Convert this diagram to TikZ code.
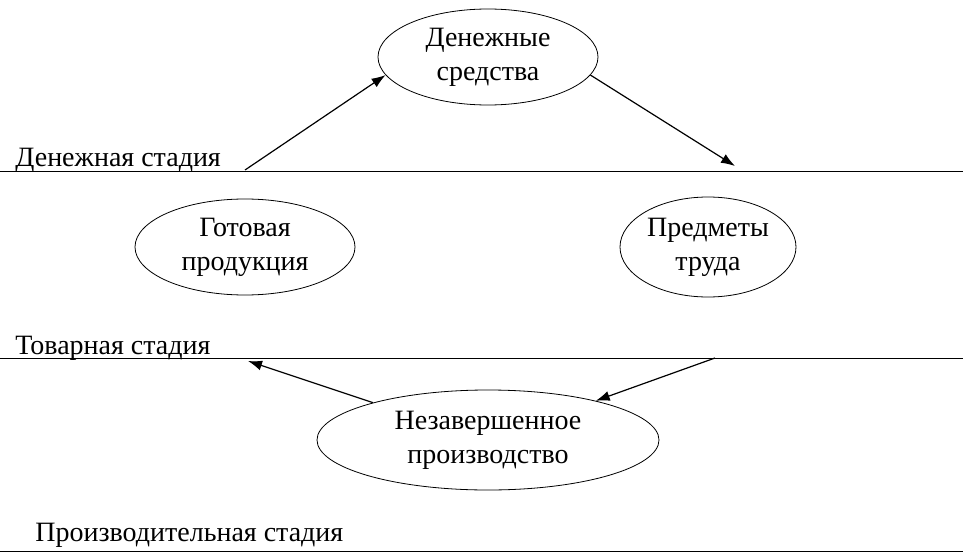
\documentclass[tikz,border=0pt]{standalone}
\usepackage{fontspec}
\setmainfont{Liberation Serif}
\usetikzlibrary{shapes.geometric,arrows.meta}
\begin{document}
\begin{tikzpicture}[x=0.5pt,y=-0.5pt,
    stage/.style={draw, ellipse, align=center, inner sep=0pt,
                  font=\fontsize{14}{17}\selectfont},
    arr/.style={-{Latex[length=7pt,width=5pt]}, semithick},
    lbl/.style={anchor=base west, inner sep=0pt, font=\fontsize{14}{16}\selectfont}
  ]
    \useasboundingbox (0,0) rectangle (963,556);
    % stages
    \node[stage, minimum width=110pt, minimum height=48pt] (money) at (488,57)  {Денежные\\средства};
    \node[stage, minimum width=110pt, minimum height=48pt] (goods) at (245,247) {Готовая\\продукция};
    \node[stage, minimum width=88pt,  minimum height=50pt] (labor) at (708,247) {Предметы\\труда};
    \node[stage, minimum width=171pt, minimum height=50pt] (wip)   at (488,440) {Незавершенное\\производство};

    % boundaries
    \draw (0,171) -- (963,171);
    \draw (0,358) -- (963,358);
    \draw (0,551) -- (963,551);
    \node[lbl] (s1) at (15,166) {Денежная стадия};
    \node[lbl] (s2) at (15,354) {Товарная стадия};
    \node[lbl] (s3) at (35,541) {Производительная стадия};

    % flow
    \coordinate (a1) at (245,170);
    \coordinate (a2) at (735,166);
    \coordinate (a3) at (715,358);
    \coordinate (a4) at (248,361);
    \draw[arr] (a1) -- (money.190);
    \draw[arr] (money.-10) -- (a2);
    \draw[arr] (a3) -- (wip.20);
    \draw[arr] (wip.162) -- (a4);
  \end{tikzpicture}
\end{document}
